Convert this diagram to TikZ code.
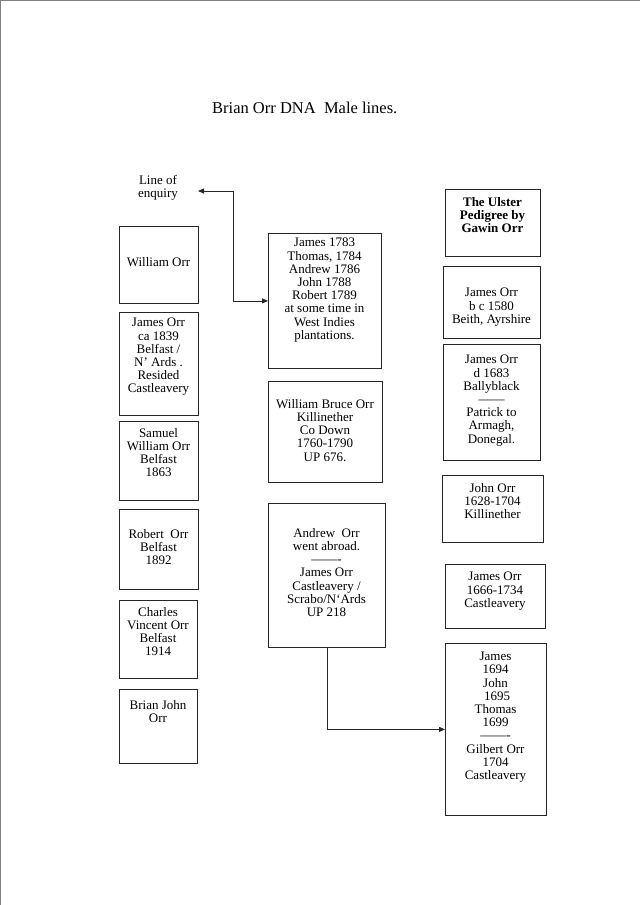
\documentclass[tikz,border=0pt]{standalone}
\usepackage{fontspec}
\setmainfont{Liberation Serif}
\usetikzlibrary{arrows.meta}

\tikzset{
    orrbox/.style={draw=black!85, line width=0.8pt, inner sep=0pt, anchor=north west},
    orrtext/.style={anchor=north, align=center, inner sep=0pt, font=\fontsize{13}{13.2}\selectfont},
    link/.style={draw=black!85, line width=0.8pt}
}

\begin{document}
\begin{tikzpicture}[x=1pt, y=-1pt, >={Triangle[length=6pt,width=5pt]}]
    \useasboundingbox (0,0) rectangle (640,905);

    % Page edge
    \draw[black!50, line width=1pt] (0.8,905) -- (0.8,0.8) -- (640,0.8);

    % Title
    \node[anchor=base west, inner sep=0pt, font=\fontsize{16.5}{19}\selectfont] (title) at (212,113) {Brian Orr DNA\ \ Male lines.};

    % Line of enquiry
    \node[orrtext] (enq) at (158,175) {Line of\\enquiry};
    \coordinate (enqtip) at (198,191);

    % Left column
    \node[orrbox, minimum width=79, minimum height=77] (william) at (119,226) {};
    \node[orrtext] (william-t) at (158.5,257) {William Orr};

    \node[orrbox, minimum width=79, minimum height=103] (james1839) at (119,312) {};
    \node[orrtext] (james1839-t) at (158.5,318) {James Orr\\ca 1839\\Belfast /\\N' Ards .\\Resided\\Castleavery};

    \node[orrbox, minimum width=79, minimum height=79] (samuel) at (119,421) {};
    \node[orrtext] (samuel-t) at (158.5,428) {Samuel\\William Orr\\Belfast\\1863};

    \node[orrbox, minimum width=79, minimum height=80] (robert) at (119,509) {};
    \node[orrtext] (robert-t) at (158.5,529) {Robert\ \ Orr\\Belfast\\1892};

    \node[orrbox, minimum width=78, minimum height=78] (charles) at (119,600) {};
    \node[orrtext] (charles-t) at (158,607) {Charles\\Vincent Orr\\Belfast\\1914};

    \node[orrbox, minimum width=78, minimum height=74] (brian) at (119,689) {};
    \node[orrtext] (brian-t) at (158,700) {Brian John\\Orr};

    % Middle column
    \node[orrbox, minimum width=113, minimum height=135] (dates) at (268,233) {};
    \node[orrtext] (dates-t) at (324.5,238) {James 1783\\Thomas, 1784\\Andrew 1786\\John 1788\\Robert 1789\\at some time in\\West Indies\\plantations.};

    \node[orrbox, minimum width=114, minimum height=101] (bruce) at (268,381) {};
    \node[orrtext] (bruce-t) at (325,399) {William Bruce Orr\\Killinether\\Co Down\\1760-1790\\UP 676.};

    \node[orrbox, minimum width=117, minimum height=144] (andrew) at (268,503) {};
    \node[orrtext] (andrew-t) at (326.5,528) {Andrew\ \ Orr\\went abroad.\\——-\\James Orr\\Castleavery /\\Scrabo/N`Ards\\UP 218};

    % Right column
    \node[orrbox, minimum width=95, minimum height=67] (ulster) at (445,189) {};
    \node[orrtext, font=\fontsize{13}{13.2}\selectfont\bfseries] (ulster-t) at (492.5,197) {The Ulster\\Pedigree by\\Gawin Orr};

    \node[orrbox, minimum width=97, minimum height=72] (beith) at (443,266) {};
    \node[orrtext] (beith-t) at (491.5,288) {James Orr\\b c 1580\\Beith, Ayrshire};

    \node[orrbox, minimum width=97, minimum height=116] (bally) at (443,344) {};
    \node[orrtext] (bally-t) at (491.5,355) {James Orr\\d 1683\\Ballyblack\\——\\Patrick to\\Armagh,\\Donegal.};

    \node[orrbox, minimum width=101, minimum height=67] (john) at (442,475) {};
    \node[orrtext] (john-t) at (492.5,483) {John Orr\\1628-1704\\Killinether};

    \node[orrbox, minimum width=100, minimum height=64] (castle) at (445,564) {};
    \node[orrtext] (castle-t) at (495,572) {James Orr\\1666-1734\\Castleavery};

    \node[orrbox, minimum width=101, minimum height=172] (kids) at (445,643) {};
    \node[orrtext] (kids-t) at (495.5,652) {James\\1694\\John\\~1695\\Thomas\\1699\\——-\\Gilbert Orr\\1704\\Castleavery};

    % Connectors
    \draw[link, <->] (enqtip) -| ([xshift=-35]dates.west) -- (dates.west);
    \draw[link, ->] (andrew.south) |- (kids.west);
\end{tikzpicture}
\end{document}
